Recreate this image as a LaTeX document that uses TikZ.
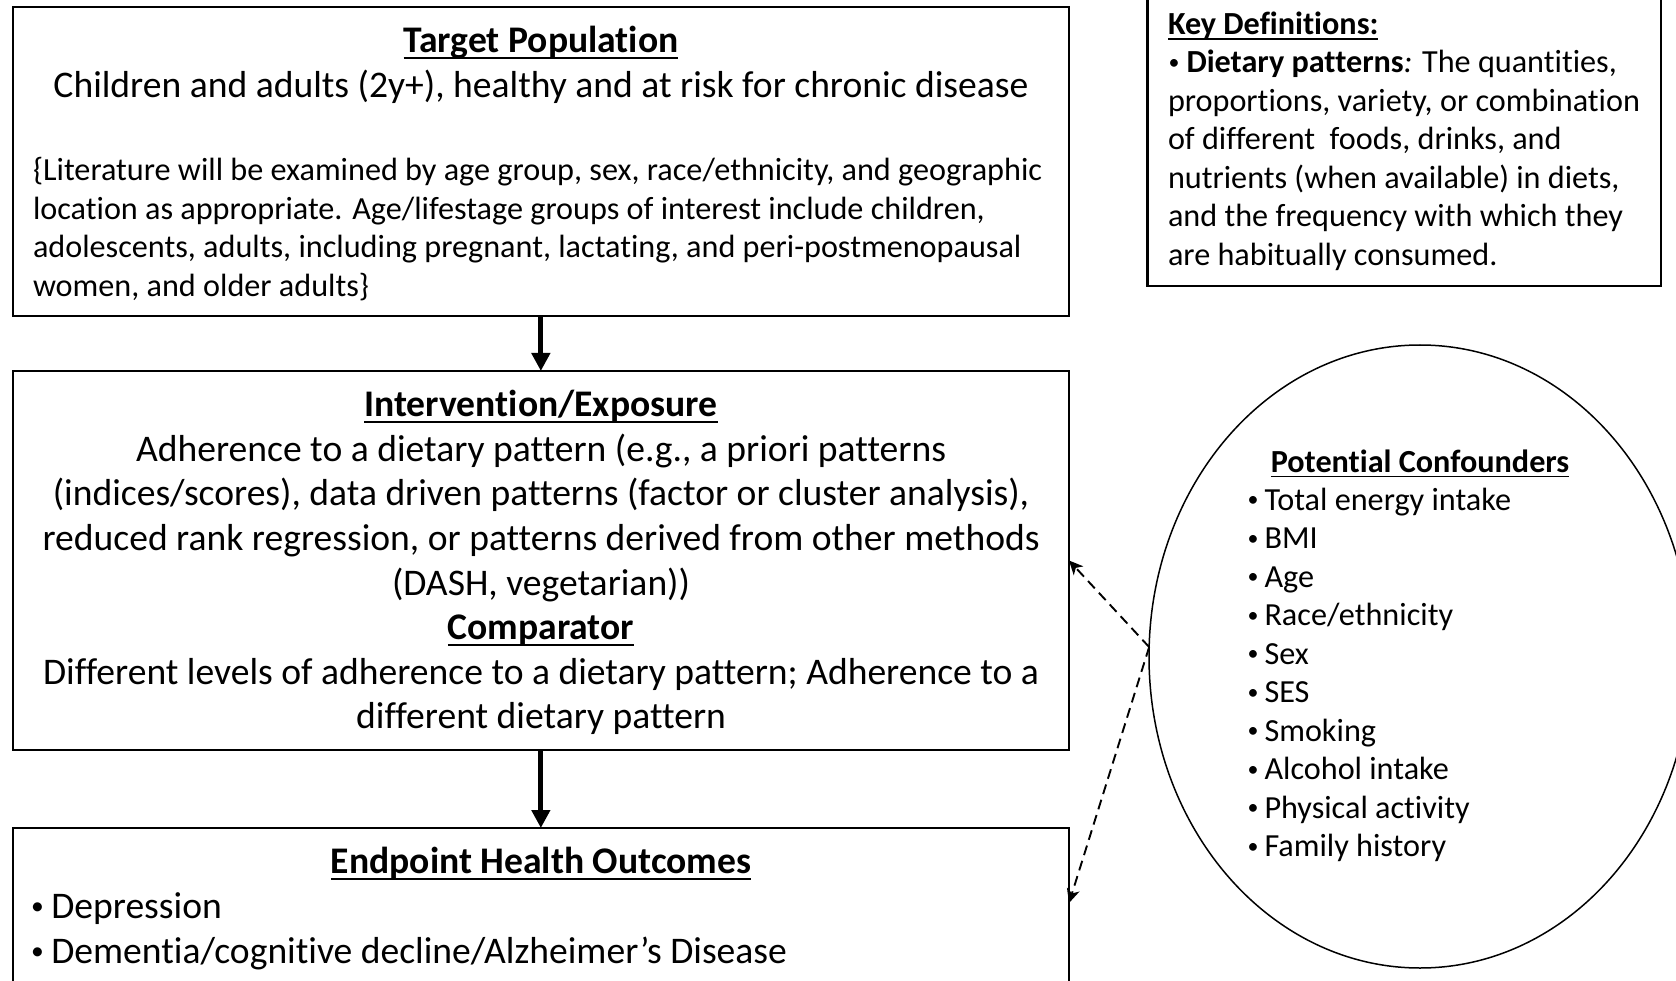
\documentclass[tikz,border=0pt]{standalone}
\usepackage{graphicx}
\usepackage{fontspec}
\setmainfont{Carlito}[Ligatures=NoCommon]
\usetikzlibrary{shapes.geometric,arrows.meta,calc}
\newcommand\ulx[1]{\setbox0=\hbox{#1}\rlap{\rule[-0.17em]{\wd0}{0.055em}}\box0}
\newcommand\smbul{\raisebox{0.1em}{\scalebox{0.68}{\textbullet}}}
\begin{document}
\begin{tikzpicture}[x=1pt,y=-1pt,
  box/.style={draw, rectangle, line width=2.2pt, inner sep=0pt, outer sep=0pt, anchor=north west},
  big/.style={inner sep=0pt, outer sep=0pt, anchor=base, font=\fontsize{37.6}{44}\selectfont},
  bigl/.style={big, anchor=base west},
  small/.style={inner sep=0pt, outer sep=0pt, anchor=base west, font=\fontsize{32.2}{38}\selectfont},
  smallc/.style={small, anchor=base},
  bul/.style={inner sep=0pt, outer sep=0pt, anchor=base},
  flow/.style={line width=5pt, -{Triangle[length=18pt,width=18pt]}},
  dasharrow/.style={line width=1.9pt, dash pattern=on 10pt off 6pt, -{Stealth[length=14pt,width=13pt,inset=4pt]}}
]
\useasboundingbox (0,0) rectangle (1676,981);
\clip (0,0) rectangle (1676,981);

% boxes
\node[box, minimum width=1056.3pt, minimum height=309.3pt] (top) at (12.7,6.7) {};
\node[box, minimum width=1056.3pt, minimum height=379pt] (mid) at (12.7,371) {};
\node[box, minimum width=1056.3pt, minimum height=200pt] (bot) at (12.7,828) {};
\node[box, minimum width=513.5pt, minimum height=291pt] (key) at (1147.5,-5) {};
\node[draw, ellipse, line width=1.5pt, inner sep=0pt, outer sep=0pt, minimum width=542pt, minimum height=623pt] (ell) at (1420,656.5) {};

% top box text
\node[big] (t1) at (541,52.6) {\ulx{\textbf{Target Population}}};
\node[big] (t2) at (541,97.5) {Children and adults (2y+), healthy and at risk for chronic disease};
\node[small] (t3) at (33,181) {\{Literature will be examined by age group, sex, race/ethnicity, and geographic};
\node[small] (t4) at (33,219.5) {location as appropriate. Age/lifestage groups of interest include children,};
\node[small] (t5) at (33,258) {adolescents, adults, including pregnant, lactating, and peri-postmenopausal};
\node[small] (t6) at (33,296.5) {women, and older adults\}};

% middle box text
\node[big] (m1) at (541,416.5) {\ulx{\textbf{Intervention/Exposure}}};
\node[big] (m2) at (541,461) {Adherence to a dietary pattern (e.g., a priori patterns};
\node[big] (m3) at (541,505.5) {(indices/scores), data driven patterns (factor or cluster analysis),};
\node[big] (m4) at (541,550.5) {reduced rank regression, or patterns derived from other methods};
\node[big] (m5) at (541,595) {(DASH, vegetarian))};
\node[big] (m6) at (541,639.5) {\ulx{\textbf{Comparator}}};
\node[big] (m7) at (541,684) {Different levels of adherence to a dietary pattern; Adherence to a};
\node[big] (m8) at (541,728.5) {different dietary pattern};

% bottom box text
\node[big] (b1) at (541,873.5) {\ulx{\textbf{Endpoint Health Outcomes}}};
\node[bul, font=\fontsize{37.6}{44}\selectfont] (bb1) at (37.4,918) {\smbul};
\node[bigl] (b2) at (51.3,918) {Depression};
\node[bul, font=\fontsize{37.6}{44}\selectfont] (bb2) at (37.4,963) {\smbul};
\node[bigl] (b3) at (51.3,963) {Dementia/cognitive decline/Alzheimer’s Disease};

% key definitions
\node[small] (k1) at (1168,34.6) {\ulx{\textbf{Key Definitions:}}};
\node[bul, font=\fontsize{32.2}{38}\selectfont] (kb) at (1174,73) {\smbul};
\node[small] (k2) at (1186.5,73) {\textbf{Dietary patterns}\textit{:} The quantities,};
\node[small] (k3) at (1168,111.5) {proportions, variety, or combination};
\node[small] (k4) at (1168,150) {of different\ \ foods, drinks, and};
\node[small] (k5) at (1168,188.5) {nutrients (when available) in diets,};
\node[small] (k6) at (1168,227) {and the frequency with which they};
\node[small] (k7) at (1168,265.5) {are habitually consumed.};

% confounders
\node[smallc] (c0) at (1420,472) {\ulx{\textbf{Potential Confounders}}};
\foreach \t [count=\i from 0] in {Total energy intake,BMI,Age,Race/ethnicity,Sex,SES,Smoking,Alcohol intake,Physical activity,Family history}{
  \node[bul, font=\fontsize{32.2}{38}\selectfont] (cb\i) at (1253,510.2+\i*38.5) {\smbul};
  \node[small] (c\i) at (1264.5,510.2+\i*38.5) {\t};
}

% connectors
\draw[flow] (top.south) -- (mid.north);
\draw[flow] (mid.south) -- (bot.north);
\coordinate (bt) at ($(bot.north east)+(0,75)$);
\draw[dasharrow] (ell.178) -- (mid.east);
\draw[dasharrow] (ell.178) -- (bt);
\end{tikzpicture}
\end{document}
